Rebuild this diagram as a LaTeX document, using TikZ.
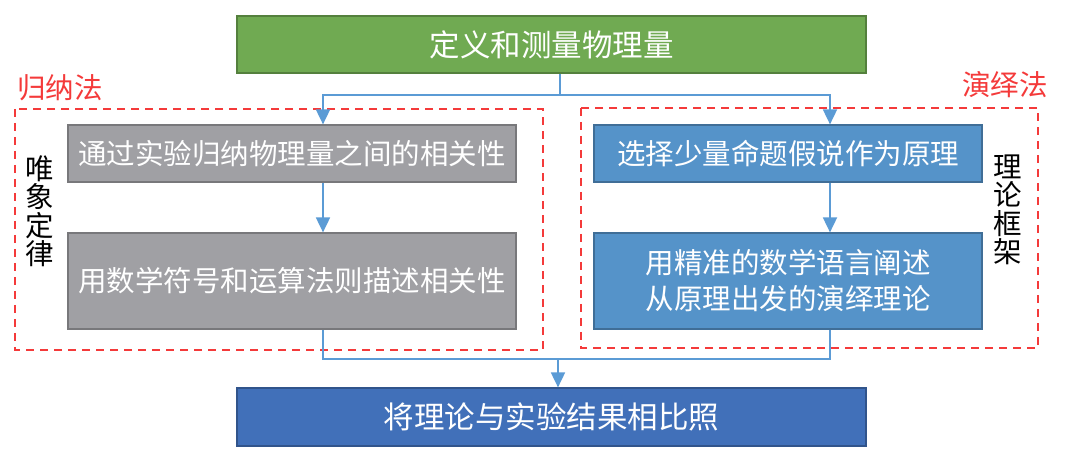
\documentclass[tikz,border=0pt]{standalone}
\usepackage{fontspec}
\newfontfamily\cjk{Noto Sans CJK SC}
\usetikzlibrary{arrows.meta}

\definecolor{boxgreen}{HTML}{70AA52}
\definecolor{boxgray}{HTML}{A0A0A4}
\definecolor{boxblue}{HTML}{5593C9}
\definecolor{boxdark}{HTML}{4170B9}
\definecolor{linkblue}{HTML}{5B9BD5}
\definecolor{methodred}{HTML}{F43A3A}

\begin{document}
\begin{tikzpicture}[x=1pt,y=-1pt,
  box/.style={draw=#1!75!black, line width=1.2pt, fill=#1, text=white,
    inner sep=0pt, align=center, font=\cjk\fontsize{28.5}{36}\selectfont},
  link/.style={draw=linkblue, line width=1.8pt},
  arrowlink/.style={link, -{Triangle[width=14pt,length=15pt]}},
  group/.style={draw=methodred, line width=1.8pt, dash pattern=on 8pt off 6pt},
  grouplabel/.style={text=methodred, inner sep=0pt, font=\cjk\fontsize{28.5}{30}\selectfont},
  sidelabel/.style={inner sep=0pt, align=center, font=\cjk\fontsize{28.5}{28.5}\selectfont}]

  \useasboundingbox (0,0) rectangle (1080,462);

  % dashed groups
  \draw[group] (15,109) rectangle (543,350);
  \draw[group] (581,108) rectangle (1038,348);
  \node[grouplabel] (induct) at (60,88) {归纳法};
  \node[grouplabel] (deduct) at (1005,85) {演绎法};
  \node[sidelabel] (phenom) at (40,211) {唯\\象\\定\\律};
  \node[sidelabel] (frame) at (1008,210) {理\\论\\框\\架};

  % boxes
  \node[box=boxgreen, minimum width=629, minimum height=57,
    font=\cjk\fontsize{30.5}{36}\selectfont] (define) at (551.5,44.5) {定义和测量物理量};
  \node[box=boxgray, minimum width=448, minimum height=57] (induce) at (292,153.5)
    {通过实验归纳物理量之间的相关性};
  \node[box=boxgray, minimum width=448, minimum height=96] (describe) at (292,281)
    {用数学符号和运算法则描述相关性};
  \node[box=boxblue, minimum width=388, minimum height=57] (choose) at (788,153.5)
    {选择少量命题假说作为原理};
  \node[box=boxblue, minimum width=388, minimum height=96] (theory) at (788,281)
    {用精准的数学语言阐述\\从原理出发的演绎理论};
  \node[box=boxdark, minimum width=629, minimum height=58,
    font=\cjk\fontsize{30.5}{36}\selectfont] (compare) at (551.5,417) {将理论与实验结果相比照};

  % connectors
  \coordinate (fork) at (560,95);
  \coordinate (join) at (558,359);

  \draw[link] ([xshift=8.5]define.south) -- (fork);
  \draw[arrowlink] (fork) -| ([xshift=31]induce.north);
  \draw[arrowlink] (fork) -| ([xshift=42]choose.north);
  \draw[arrowlink] ([xshift=31]induce.south) -- ([xshift=31]describe.north);
  \draw[arrowlink] ([xshift=42]choose.south) -- ([xshift=42]theory.north);
  \draw[link] ([xshift=31]describe.south) |- (join);
  \draw[link] ([xshift=42]theory.south) |- (join);
  \draw[arrowlink] (join) -- ([xshift=6.5]compare.north);

\end{tikzpicture}
\end{document}
